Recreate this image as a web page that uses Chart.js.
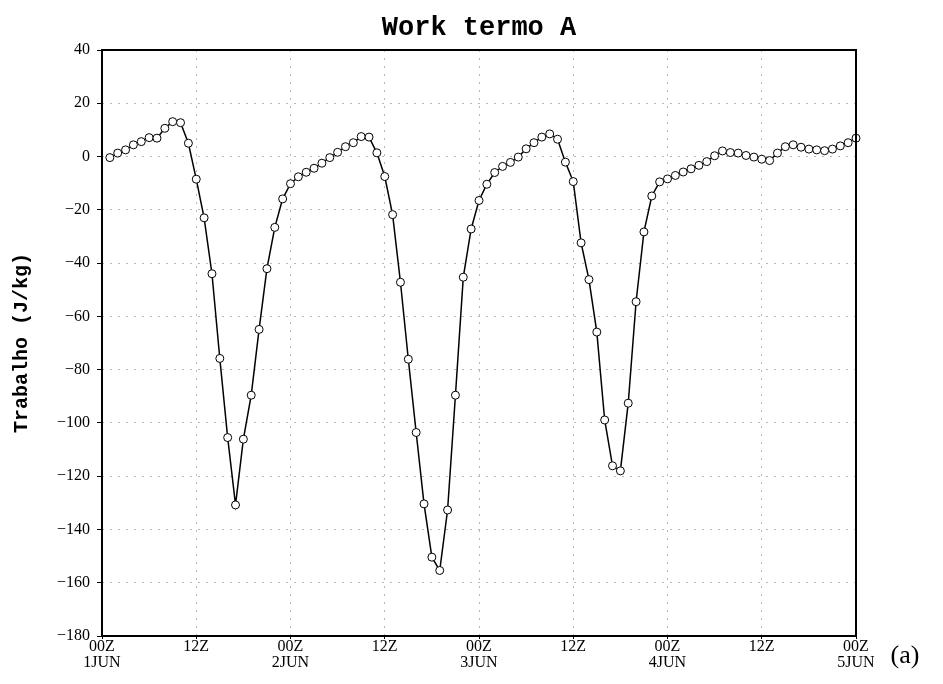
<!DOCTYPE html>
<html>
<head>
<meta charset="utf-8">
<script src="https://cdn.jsdelivr.net/npm/chart.js@4/dist/chart.umd.min.js"></script>
<style>
  html, body { margin: 0; padding: 0; background: #fff; }
  #wrap { width: 943px; height: 684px; }
</style>
</head>
<body>
<div id="wrap"><canvas id="workChart" width="943" height="684"></canvas></div>
<script>
// hourly values, 01Z 1JUN .. 00Z 5JUN (J/kg)
const workValues = [
  -0.4, 1.3, 2.5, 4.4, 5.6, 7.1, 6.9, 10.6, 13.1, 12.7, 5.0, -8.5,
  -23.0, -44.0, -75.8, -105.5, -130.8, -106.1, -89.6, -64.9, -42.1, -26.6, -15.9, -10.2,
  -7.6, -5.9, -4.4, -2.5, -0.4, 1.6, 3.7, 5.2, 7.5, 7.3, 1.4, -7.5,
  -21.8, -47.2, -76.1, -103.6, -130.4, -150.4, -155.4, -132.7, -89.6, -45.3, -27.2, -16.5,
  -10.4, -6.0, -3.7, -2.2, -0.2, 2.9, 5.2, 7.3, 8.5, 6.5, -2.1, -9.4,
  -32.4, -46.2, -65.9, -98.9, -116.1, -118.0, -92.6, -54.5, -28.3, -14.8, -9.5, -8.4,
  -7.1, -5.8, -4.6, -3.3, -1.9, 0.3, 2.1, 1.5, 1.3, 0.4, -0.2, -1.0,
  -1.5, 1.3, 3.7, 4.4, 3.5, 2.8, 2.5, 2.2, 2.8, 4.0, 5.2, 6.9
];
const firstHour = 1;

// x tick labels every 12 h, from 00Z 1JUN
const xTickLabels = [
  ["00Z", "1JUN"], "12Z", ["00Z", "2JUN"], "12Z", ["00Z", "3JUN"],
  "12Z", ["00Z", "4JUN"], "12Z", ["00Z", "5JUN"]
];
const yTicks = [40, 20, 0, -20, -40, -60, -80, -100, -120, -140, -160, -180];

const chartTitle = "Work termo A";
const yAxisTitle = "Trabalho (J/kg)";
const panelTag = "(a)";

const points = workValues.map((v, i) => ({ x: firstHour + i, y: v }));

const tickFont = { family: "'Liberation Serif', serif", size: 16, lineHeight: 1.0 };

const framePlugin = {
  id: "frame",
  afterDraw(chart) {
    const { ctx, chartArea: a } = chart;
    ctx.save();
    ctx.strokeStyle = "#000";
    ctx.lineWidth = 2;
    ctx.strokeRect(a.left, a.top, a.right - a.left, a.bottom - a.top);

    ctx.fillStyle = "#000";
    ctx.font = "bold 27px 'Liberation Mono', monospace";
    ctx.textAlign = "center";
    ctx.textBaseline = "alphabetic";
    ctx.fillText(chartTitle, (a.left + a.right) / 2, 35);

    ctx.font = "26px 'Liberation Serif', serif";
    ctx.textAlign = "center";
    ctx.textBaseline = "middle";
    ctx.fillText(panelTag, 905, 656);

    ctx.translate(22, (a.top + a.bottom) / 2);
    ctx.rotate(-Math.PI / 2);
    ctx.font = "bold 20px 'Liberation Mono', monospace";
    ctx.fillText(yAxisTitle, 0, 0);
    ctx.restore();
  }
};

new Chart(document.getElementById("workChart"), {
  type: "line",
  data: {
    datasets: [
      {
        label: "Work termo A",
        data: points,
        borderColor: "#000",
        borderWidth: 1.5,
        pointRadius: 4,
        pointBackgroundColor: "#fff",
        pointBorderColor: "#000",
        pointBorderWidth: 1,
        tension: 0,
        clip: false
      }
    ]
  },
  options: {
    responsive: false,
    animation: false,
    layout: { padding: { top: 50, right: 87, bottom: 0, left: 0 } },
    plugins: {
      legend: { display: false },
      tooltip: { enabled: false }
    },
    scales: {
      x: {
        type: "linear",
        min: 0,
        max: 96,
        afterBuildTicks(scale) {
          scale.ticks = xTickLabels.map((_, i) => ({ value: i * 12 }));
        },
        afterFit(scale) { scale.height = 48; },
        ticks: {
          color: "#000",
          font: tickFont,
          padding: 0,
          maxRotation: 0,
          autoSkip: false,
          callback: (v, i) => xTickLabels[i]
        },
        grid: {
          color: "#b8b8b8",
          lineWidth: 1,
          tickColor: "#000",
          tickLength: 3
        },
        border: { display: false, dash: [2, 6] }
      },
      y: {
        min: -180,
        max: 40,
        afterBuildTicks(scale) {
          scale.ticks = yTicks.map(v => ({ value: v }));
        },
        afterFit(scale) { scale.width = 102; },
        ticks: {
          color: "#000",
          font: tickFont,
          padding: 7,
          callback: v => (v < 0 ? "\u2212" + Math.abs(v) : String(v))
        },
        grid: {
          color: "#b8b8b8",
          lineWidth: 1,
          tickColor: "#000",
          tickLength: 5
        },
        border: { display: false, dash: [2, 6] }
      }
    }
  },
  plugins: [framePlugin]
});
</script>
</body>
</html>
